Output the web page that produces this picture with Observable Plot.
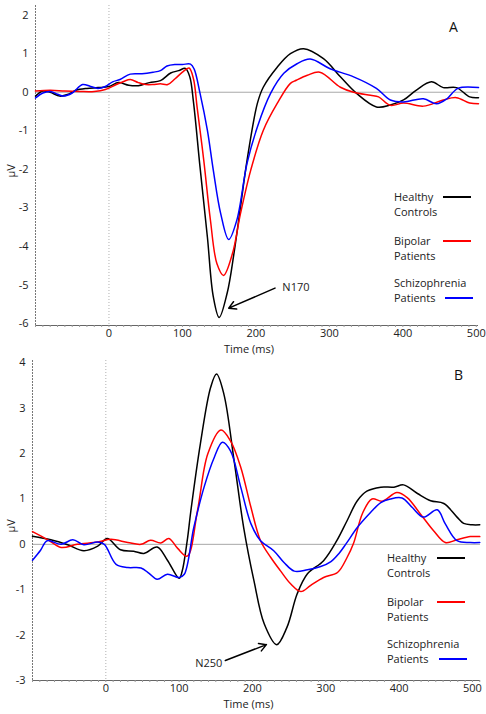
<!DOCTYPE html>
<html>
<head>
<meta charset="utf-8">
<script src="https://cdn.jsdelivr.net/npm/d3@7"></script>
<script src="https://cdn.jsdelivr.net/npm/@observablehq/plot@0.6"></script>
<style>
  html, body { margin: 0; padding: 0; background: #fff; }
  #wrap { position: relative; width: 486px; height: 714px; font-family: "Open Sans", sans-serif; color: #222; }
  #wrap svg { display: block; }
  .leg { position: absolute; font-size: 11px; line-height: 15px; color: #222; white-space: nowrap; }
  .legline { position: absolute; height: 2px; }
  .panel { position: absolute; font-size: 14px; color: #111; }
</style>
</head>
<body>
<div id="wrap"></div>
<script>
// ---------- Series names & colours ----------
const seriesNames = ["Healthy Controls", "Bipolar Patients", "Schizophrenia Patients"];
const seriesColors = ["#000000", "#ff0000", "#0000ff"];

// ---------- Panel A (N170) ----------
const timeA_hc = [-100,-90,-80,-67,-55,-45,-30,-15,0,13,27,40,55,70,84,95,104,110,115,124,134,142,150,161,170,179,188,202,210,229,247,265,292,315,337,364,383,401,418,439,455,473,491,503];
const valA_hc  = [-0.1,0.03,0.0,-0.1,-0.05,0.05,0.1,0.12,0.15,0.25,0.18,0.17,0.25,0.3,0.5,0.56,0.62,0.4,-0.25,-1.95,-3.76,-5.3,-5.84,-5.2,-4.2,-2.98,-1.76,-0.29,0.13,0.65,1.0,1.13,0.87,0.4,-0.03,-0.38,-0.33,-0.2,0.05,0.27,0.12,0.12,-0.12,-0.14];
const timeA_bp = [-100,-80,-60,-40,-20,-5,10,20,29,40,50,60,70,80,90,100,109,115,120,129,138,147,156,168,179,193,210,229,247,255,270,287,315,333,356,367,383,401,428,455,473,491,503];
const valA_bp  = [0.03,0.05,0.03,0.02,0.02,0.07,0.2,0.28,0.33,0.25,0.2,0.2,0.22,0.2,0.35,0.52,0.63,0.35,-0.39,-1.76,-3.3,-4.45,-4.75,-4.19,-3.15,-2.02,-0.99,-0.29,0.23,0.31,0.44,0.52,0.13,0.0,-0.08,-0.12,-0.34,-0.28,-0.36,-0.2,-0.14,-0.28,-0.3];
const timeA_sz = [-100,-90,-80,-70,-62,-50,-36,-25,-15,-5,5,15,29,45,60,70,79,90,100,111,116,124,134,142,152,163,174,188,202,220,238,256,274,301,333,364,383,401,428,446,460,475,503];
const valA_sz  = [-0.15,-0.02,0.02,-0.05,-0.1,-0.02,0.2,0.15,0.1,0.15,0.27,0.33,0.47,0.48,0.52,0.56,0.68,0.72,0.72,0.73,0.6,-0.03,-0.99,-2.02,-3.14,-3.82,-3.32,-1.84,-0.9,-0.03,0.49,0.74,0.86,0.61,0.4,0.1,-0.2,-0.25,-0.17,-0.3,-0.17,0.1,0.12];

// ---------- Panel B (N250) ----------
const timeB_hc = [-100,-75,-52,-30,-11,2,20,38,52,70,84,100,104,111,116,129,143,151,161,175,188,202,216,233,247,261,275,297,315,329,343,356,375,393,406,425,443,461,479,488,500,510];
const valB_hc  = [0.18,0.1,-0.01,-0.14,-0.04,0.13,-0.12,-0.15,-0.2,-0.06,-0.35,-0.75,-0.6,0.08,0.74,2.22,3.46,3.75,3.31,1.84,0.37,-0.8,-1.75,-2.21,-1.83,-1.09,-0.65,-0.36,0.08,0.52,0.96,1.17,1.26,1.26,1.31,1.12,0.96,0.9,0.6,0.46,0.43,0.43];
const timeB_bp = [-100,-79,-61,-39,-11,7,30,48,61,75,86,98,111,125,139,157,170,184,198,211,225,238,252,266,279,297,316,329,338,350,363,377,397,411,429,447,463,479,497,510];
const valB_bp  = [0.28,0.1,-0.07,0.0,0.05,0.11,0.04,0.0,0.09,0.03,0.13,-0.09,-0.26,0.74,1.99,2.52,2.28,1.7,0.81,0.08,-0.29,-0.58,-0.87,-1.04,-0.91,-0.73,-0.62,-0.29,0.03,0.68,1.0,0.95,1.14,1.03,0.67,0.3,0.04,0.1,0.17,0.17];
const timeB_sz = [-100,-89,-80,-61,-45,-30,-11,-2,14,30,48,59,70,84,100,107,120,134,148,159,170,184,198,211,229,243,257,275,293,307,318,328,343,361,375,388,404,418,433,452,463,479,497,510];
const valB_sz  = [-0.35,-0.13,0.08,0.0,0.1,-0.01,0.05,0.0,-0.44,-0.51,-0.52,-0.64,-0.77,-0.66,-0.73,-0.66,0.37,1.26,1.92,2.25,2.06,1.26,0.45,0.08,-0.14,-0.4,-0.59,-0.56,-0.49,-0.38,-0.2,0.02,0.37,0.7,0.92,1.0,1.02,0.81,0.6,0.76,0.45,0.08,0.04,0.04];

// ---------- Axes ----------
const xDomainA = [-100, 503];
const yDomainA = [-6.05, 2.25];
const xDomainB = [-100, 511];
const yDomainB = [-3, 4.05];
const xTicks = [0, 100, 200, 300, 400, 500];
const yTicksA = [-6, -5, -4, -3, -2, -1, 0, 1, 2];
const yTicksB = [-3, -2, -1, 0, 1, 2, 3, 4];
const xLabel = "Time (ms)";
const yLabel = "µV";

// ---------- Annotations ----------
const annotA = [{label: "N170", tx: 236, ty: -5.06, x1: 226, y1: -5.08, x2: 163, y2: -5.6}];
const annotB = [{label: "N250", tx: 159, ty: -2.62, x1: 163, y1: -2.56, x2: 219, y2: -2.21}];

function rows(times, vals, name) { return times.map((t, i) => ({t, v: vals[i], s: name})); }

const dataA = [
  ...rows(timeA_hc, valA_hc, seriesNames[0]),
  ...rows(timeA_bp, valA_bp, seriesNames[1]),
  ...rows(timeA_sz, valA_sz, seriesNames[2])
];
const dataB = [
  ...rows(timeB_hc, valB_hc, seriesNames[0]),
  ...rows(timeB_bp, valB_bp, seriesNames[1]),
  ...rows(timeB_sz, valB_sz, seriesNames[2])
];

const fmt = d => String(d);

function panel(data, xDomain, yDomain, yTicks, annot, opts) {
  const minor = d3.range(xDomain[0], xDomain[1] + 0.01, 10);
  return Plot.plot({
    width: 486,
    height: opts.height,
    marginTop: opts.mt,
    marginBottom: opts.mb,
    marginLeft: opts.ml,
    marginRight: opts.mr,
    style: {fontFamily: "'Open Sans', sans-serif", fontSize: "11px", color: "#222", background: "#fff"},
    x: {domain: xDomain, label: null},
    y: {domain: yDomain, label: null},
    color: {domain: seriesNames, range: seriesColors},
    marks: [
      Plot.ruleY([0], {stroke: "#a8a8a8", strokeWidth: 1}),
      Plot.ruleX([0], {stroke: "#b0b0b0", strokeWidth: 1, strokeDasharray: "1,2"}),
      Plot.ruleY([yDomain[0]], {stroke: "#666", strokeWidth: 1}),
      Plot.ruleX([xDomain[0]], {stroke: "#777", strokeWidth: 1, strokeDasharray: "2,1"}),
      Plot.axisX({ticks: minor, tickSize: 2, tickFormat: () => "", stroke: "#999", label: null}),
      Plot.axisX({ticks: xTicks, tickSize: 0, tickPadding: 4, tickFormat: fmt, label: null, fontSize: 11}),
      Plot.axisY({ticks: yTicks, tickSize: 0, tickPadding: 7, tickFormat: fmt, label: null, fontSize: 11}),
      Plot.line(data, {x: "t", y: "v", z: "s", stroke: "s", strokeWidth: 1.5, curve: "catmull-rom"}),
      Plot.arrow(annot, {x1: "x1", y1: "y1", x2: "x2", y2: "y2", stroke: "#000", strokeWidth: 1.5, headLength: 8, bend: 0}),
      Plot.text(annot, {x: "tx", y: "ty", text: "label", textAnchor: opts.annotAnchor, fontSize: 11, fill: "#222"}),
      Plot.text([xLabel], {frameAnchor: "bottom", dy: 24, dx: -8, lineAnchor: "middle", fontSize: 11, fill: "#222"}),
      Plot.text([yLabel], {frameAnchor: "left", dx: -opts.ml + 11, dy: 12, rotate: -90, lineAnchor: "middle", fontSize: 11, fill: "#222"})
    ]
  });
}

const wrap = document.getElementById("wrap");
const svgA = panel(dataA, xDomainA, yDomainA, yTicksA, annotA, {height: 355, mt: 5, mb: 30, ml: 35, mr: 8, annotAnchor: "start"});
const svgB = panel(dataB, xDomainB, yDomainB, yTicksB, annotB, {height: 359, mt: 5, mb: 34, ml: 32, mr: 6, annotAnchor: "end"});
wrap.appendChild(svgA);
wrap.appendChild(svgB);

// ---------- Legends & panel letters (HTML overlay) ----------
function legend(top, left, lineLeft) {
  const labels = [["Healthy", "Controls"], ["Bipolar", "Patients"], ["Schizophrenia", "Patients"]];
  const offsets = [0, 44, 86];
  const lineOff = [7, 7, 22];
  labels.forEach((lab, i) => {
    const d = document.createElement("div");
    d.className = "leg";
    d.style.left = left + "px";
    d.style.top = (top + offsets[i]) + "px";
    d.innerHTML = lab[0] + "<br>" + lab[1];
    wrap.appendChild(d);
    const l = document.createElement("div");
    l.className = "legline";
    l.style.left = (lineLeft + (i === 2 ? 2 : 0)) + "px";
    l.style.width = "28px";
    l.style.top = (top + offsets[i] + lineOff[i]) + "px";
    l.style.backgroundColor = seriesColors[i];
    wrap.appendChild(l);
  });
}
legend(189, 394, 443);
legend(550, 387, 437);

function letter(txt, left, top) {
  const d = document.createElement("div");
  d.className = "panel";
  d.textContent = txt;
  d.style.left = left + "px";
  d.style.top = top + "px";
  wrap.appendChild(d);
}
letter("A", 449, 17);
letter("B", 454, 365);
</script>
</body>
</html>
